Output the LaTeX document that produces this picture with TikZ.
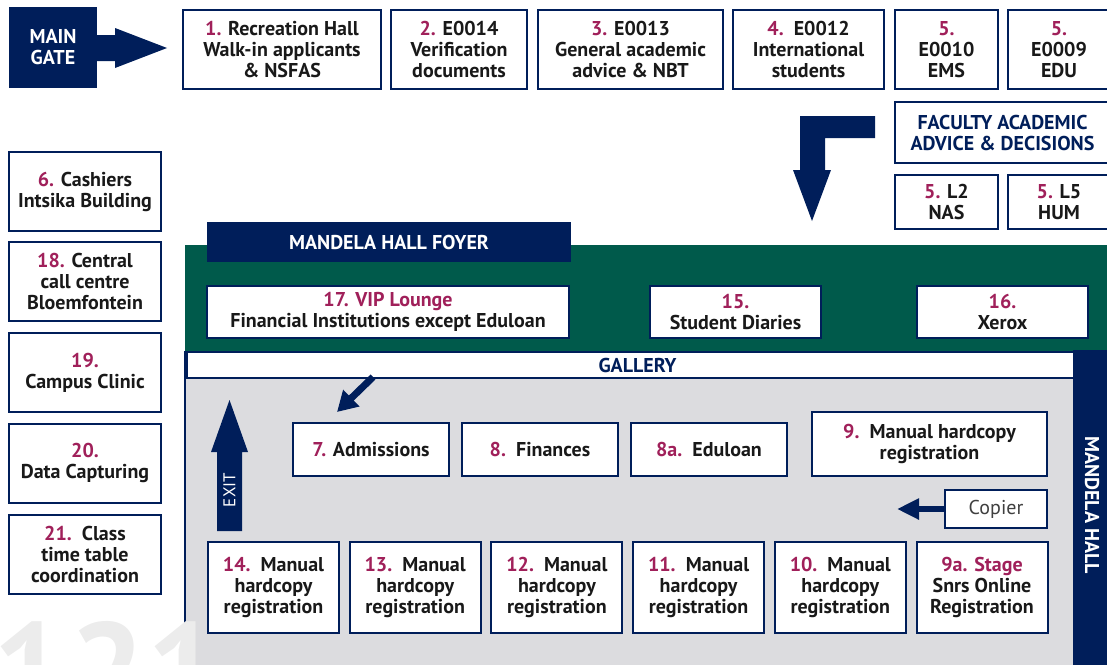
\documentclass[tikz,border=0pt]{standalone}
\usepackage{fontspec}
\setmainfont{PT Sans}
\usepackage{xcolor}
\definecolor{navy}{HTML}{001E5A}
\definecolor{foyergreen}{HTML}{005A4B}
\definecolor{numred}{HTML}{A0205A}
\definecolor{hallgray}{HTML}{DCDCDF}
\usetikzlibrary{arrows.meta,positioning}
\newcommand\unitsize{0.5pt}
\newcommand\nr[1]{\textcolor{numred}{#1}}
\tikzset{room/.style={rectangle, draw=navy, line width=1pt, fill=white, text=black!90, align=center, inner sep=0pt, font=\bfseries\fontsize{10}{10.5}\selectfont}}
\tikzset{sz/.style 2 args={minimum width=#1*\unitsize, minimum height=#2*\unitsize}}
\tikzset{banner/.style={rectangle, fill=navy, text=white, align=center, inner sep=0pt, font=\bfseries\fontsize{10}{10.5}\selectfont}}
\tikzset{flowarrow/.style={draw=navy, line width=3.5pt, -{Triangle[length=10pt,width=11pt]}}}

\begin{document}
\begin{tikzpicture}[x=\unitsize,y=-\unitsize]
\clip (0,0) rectangle (1107,664);
% main gate and the first row
\node[banner, sz={88}{81}] (gate) at (53,47.5) {MAIN\\GATE};
\fill[navy] (97,35) -- (115,35) -- (115,28) -- (167,48) -- (115,68) -- (115,61) -- (97,61) -- cycle;
\node[room, sz={198}{79}] (rec) at (282,49.5) {\nr{1.} Recreation Hall\\Walk-in applicants\\\& NSFAS};
\node[room, sz={136}{79}] (verif) at (459,49.5) {\nr{2.} E0014\\Verification\\documents};
\node[room, sz={185}{79}] (advice) at (630.5,49.5) {\nr{3.} E0013\\General academic\\advice \& NBT};
\node[room, sz={151}{79}] (intl) at (808.5,49.5) {\nr{4.}\ \ E0012\\International\\students};
\node[room, sz={103}{79}] (ems) at (946.5,49.5) {\nr{5.}\\E0010\\EMS};
\node[room, sz={102}{79}] (edu) at (1059,49.5) {\nr{5.}\\E0009\\EDU};
% faculty block
\node[room, sz={215}{61}, text=navy] (faculty) at (1002.5,132.5) {FACULTY ACADEMIC\\ADVICE \& DECISIONS};
\node[room, sz={103}{54}] (nas) at (946.5,202) {\nr{5.} L2\\NAS};
\node[room, sz={102}{54}] (hum) at (1059,202) {\nr{5.} L5\\HUM};
\fill[navy] (875,116) -- (800,116) -- (800,170) -- (793,170) -- (812,221) -- (831,170) -- (825,170) -- (825,138) -- (875,138) -- cycle;
% left column
\node[room, sz={152}{79}] (cash) at (85,191.5) {\nr{6.} Cashiers\\Intsika Building};
\node[room, sz={152}{79}] (call) at (85,281.5) {\nr{18.} Central\\call centre\\Bloemfontein};
\node[room, sz={152}{79}] (clinic) at (85,372.5) {\nr{19.}\\Campus Clinic};
\node[room, sz={152}{79}] (data) at (85,463) {\nr{20.}\\Data Capturing};
\node[room, sz={152}{79}] (class) at (85,554) {\nr{21.}\ \ Class\\time table\\coordination};
% foyer
\fill[foyergreen] (185,245) rectangle (1110,351);
\node[banner, sz={364}{40}] (foyer) at (389,242) {MANDELA HALL FOYER};
\node[room, sz={362}{52}] (vip) at (388,312) {\nr{17. VIP Lounge}\\Financial Institutions except Eduloan};
\node[room, sz={171}{52}] (diaries) at (735.5,312) {\nr{15.}\\Student Diaries};
\node[room, sz={171}{52}] (xerox) at (1002.5,312) {\nr{16.}\\Xerox};
% hall
\fill[hallgray] (185,377) rectangle (1073,670);
\draw[navy, line width=1pt] (185,351) -- (185,670);
\node[room, sz={901}{26}, text=navy, anchor=north west] (gallery) at (186,351) {GALLERY};
\fill[navy] (1073,350) rectangle (1110,670);
\node[rotate=-90, text=white, font=\bfseries\fontsize{10}{10.5}\selectfont] (hall) at (1092,505) {MANDELA HALL};
% exit
\fill[navy] (217,531) -- (242,531) -- (242,452) -- (248,452) -- (229.5,400) -- (211,452) -- (217,452) -- cycle;
\node[rotate=90, text=white, font=\fontsize{8.5}{9}\selectfont] (exit) at (229.5,490) {EXIT};
% middle row
\node[room, sz={156}{53}] (adm) at (371,449.5) {\nr{7.} Admissions};
\node[room, sz={156}{53}] (fin) at (540,449.5) {\nr{8.}\ \ Finances};
\node[room, sz={156}{53}] (edul) at (709,449.5) {\nr{8a.}\ \ Eduloan};
\node[room, sz={235}{64}] (manual) at (929.5,444) {\nr{9.}\ \ Manual hardcopy\\registration};
\node[room, sz={102}{38}, font=\fontsize{10}{10.5}\selectfont, text=black!75] (copier) at (996,509) {Copier};
\coordinate (g1) at (373,377);
\coordinate (g2) at (337,412);
\draw[flowarrow] (g1) -- (g2);
\coordinate (c1) at (897,509);
\draw[draw=navy, line width=3pt, -{Triangle[length=11pt,width=10pt]}] (copier.west) -- (c1);
% bottom row
\foreach \n [count=\i from 0] in {14,13,12,11,10} {
  \node[room, sz={131}{91}] (reg\n) at (273.5+141.7*\i,587.5) {\nr{\n.}\ \ Manual\\hardcopy\\registration};
}
\node[room, sz={131}{91}] (stage) at (982,587.5) {\nr{9a. Stage}\\Snrs Online\\Registration};
% watermark
\node[anchor=north west, inner sep=0pt, text=gray!15, font=\bfseries\fontsize{68}{68}\selectfont] (mark) at (-8,621) {121};
\end{tikzpicture}
\end{document}
